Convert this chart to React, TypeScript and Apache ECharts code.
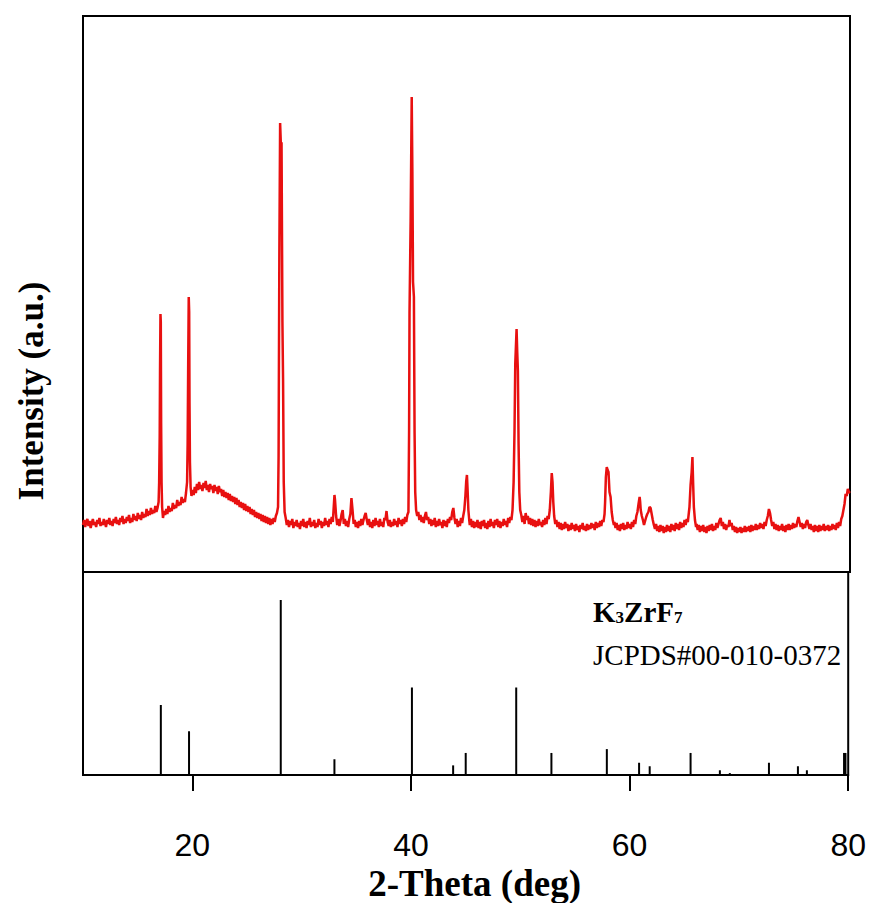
import React, { useEffect, useRef } from "react";
import * as echarts from "echarts";

// ---- axis ticks ----
const xTickValues = [20, 40, 60, 80];

// ---- measured scan (2-theta in deg, intensity in counts) ----
const scan10to20: [number, number][] = [
  [10.0, 470], [10.1, 520], [10.2, 450], [10.3, 500], [10.4, 530], [10.5, 460], [10.6, 510], [10.7, 440], [10.8, 490], [10.9, 530],
  [11.0, 470], [11.1, 500], [11.2, 450], [11.3, 520], [11.4, 480], [11.5, 540], [11.6, 460], [11.7, 500], [11.8, 470], [11.9, 530],
  [12.0, 490], [12.1, 450], [12.2, 520], [12.3, 480], [12.4, 540], [12.5, 470], [12.6, 510], [12.7, 460], [12.8, 530], [12.9, 490],
  [13.0, 550], [13.1, 480], [13.2, 520], [13.3, 470], [13.4, 540], [13.5, 500], [13.6, 560], [13.7, 480], [13.8, 530], [13.9, 490],
  [14.0, 550], [14.1, 510], [14.2, 570], [14.3, 490], [14.4, 540], [14.5, 500], [14.6, 580], [14.7, 520], [14.8, 560], [14.9, 510],
  [15.0, 590], [15.1, 530], [15.2, 570], [15.3, 520], [15.4, 600], [15.5, 540], [15.6, 580], [15.7, 550], [15.8, 630], [15.9, 560],
  [16.0, 610], [16.1, 570], [16.2, 640], [16.3, 580], [16.4, 620], [16.5, 590], [16.6, 660], [16.7, 600], [16.8, 640],
  [16.9, 700], [16.95, 900], [17.0, 1360], [17.03, 2020], [17.07, 2580], [17.1, 2500], [17.13, 1500], [17.17, 900], [17.22, 650], [17.3, 540],
  [17.4, 610], [17.5, 570], [17.6, 630], [17.7, 580], [17.8, 660], [17.9, 600], [18.0, 640], [18.1, 610], [18.2, 690], [18.3, 630],
  [18.4, 670], [18.5, 640], [18.6, 720], [18.7, 660], [18.8, 700], [18.9, 670], [19.0, 750], [19.1, 690], [19.2, 730], [19.3, 700], [19.4, 790],
  [19.5, 900], [19.55, 1280], [19.6, 2080], [19.65, 2750], [19.69, 2600], [19.72, 1700], [19.76, 1100], [19.82, 850], [19.9, 760],
];

const scan20to30: [number, number][] = [
  [20.0, 820], [20.1, 770], [20.2, 850], [20.3, 790], [20.4, 880], [20.5, 820], [20.6, 900], [20.7, 830], [20.8, 870], [20.9, 810],
  [21.0, 890], [21.1, 840], [21.2, 910], [21.3, 820], [21.4, 870], [21.5, 800], [21.6, 880], [21.7, 830], [21.8, 860], [21.9, 790],
  [22.0, 870], [22.1, 810], [22.2, 850], [22.3, 780], [22.4, 860], [22.5, 800], [22.6, 830], [22.7, 760], [22.8, 820], [22.9, 750],
  [23.0, 800], [23.1, 740], [23.2, 790], [23.3, 720], [23.4, 780], [23.5, 710], [23.6, 760], [23.7, 700], [23.8, 750], [23.9, 680],
  [24.0, 740], [24.1, 670], [24.2, 720], [24.3, 650], [24.4, 700], [24.5, 640], [24.6, 690], [24.7, 620], [24.8, 680], [24.9, 610],
  [25.0, 660], [25.1, 600], [25.2, 650], [25.3, 580], [25.4, 630], [25.5, 570], [25.6, 620], [25.7, 550], [25.8, 600], [25.9, 540],
  [26.0, 590], [26.1, 530], [26.2, 580], [26.3, 510], [26.4, 570], [26.5, 500], [26.6, 560], [26.7, 490], [26.8, 550], [26.9, 480],
  [27.0, 540], [27.1, 470], [27.2, 530], [27.3, 480], [27.4, 540], [27.5, 500], [27.6, 560], [27.7, 590],
  [27.8, 650], [27.85, 1160], [27.92, 3200], [27.99, 4490], [28.05, 4300], [28.12, 4290], [28.2, 2500], [28.26, 1910], [28.32, 900], [28.4, 600],
  [28.5, 540], [28.6, 470], [28.7, 520], [28.8, 450], [28.9, 510], [29.0, 470], [29.1, 530], [29.2, 440], [29.3, 500], [29.4, 460],
  [29.5, 520], [29.6, 450], [29.7, 490], [29.8, 430], [29.9, 510],
];

const scan30to40: [number, number][] = [
  [30.0, 460], [30.1, 530], [30.2, 450], [30.3, 500], [30.4, 440], [30.5, 510], [30.6, 470], [30.7, 540], [30.8, 450], [30.9, 500],
  [31.0, 460], [31.1, 520], [31.2, 440], [31.3, 490], [31.4, 450], [31.5, 530], [31.6, 470], [31.7, 510], [31.8, 440], [31.9, 500],
  [32.0, 460], [32.1, 540], [32.2, 470], [32.3, 510], [32.4, 450], [32.5, 530], [32.6, 480], [32.7, 550], [32.8, 500], [32.9, 680],
  [32.95, 770], [33.0, 720], [33.1, 560], [33.2, 470], [33.3, 530], [33.4, 460], [33.5, 510], [33.6, 580], [33.7, 620], [33.8, 480],
  [33.9, 530], [34.0, 460], [34.1, 510], [34.2, 450], [34.3, 530], [34.4, 580], [34.5, 740], [34.6, 620], [34.7, 480], [34.8, 520],
  [34.9, 450], [35.0, 500], [35.1, 440], [35.2, 510], [35.3, 460], [35.4, 530], [35.5, 470], [35.6, 520], [35.7, 560], [35.8, 590],
  [35.9, 520], [36.0, 470], [36.1, 530], [36.2, 450], [36.3, 500], [36.4, 440], [36.5, 520], [36.6, 460], [36.7, 540], [36.8, 470],
  [36.9, 510], [37.0, 450], [37.1, 530], [37.2, 460], [37.3, 500], [37.4, 450], [37.5, 540], [37.6, 520], [37.7, 610], [37.8, 500],
  [37.9, 460], [38.0, 520], [38.1, 450], [38.2, 500], [38.3, 460], [38.4, 530], [38.5, 470], [38.6, 510], [38.7, 450], [38.8, 540],
  [38.9, 480], [39.0, 520], [39.1, 460], [39.2, 530], [39.3, 480], [39.4, 550], [39.5, 500], [39.6, 570],
  [39.7, 600], [39.76, 1400], [39.8, 2590], [39.9, 3500], [40.0, 4750], [40.06, 4000], [40.12, 2900], [40.2, 2750], [40.26, 1400], [40.32, 800], [40.4, 620],
];

const scan40to50: [number, number][] = [
  [40.5, 560], [40.6, 600], [40.7, 520], [40.8, 570], [40.9, 500], [41.0, 550], [41.1, 490], [41.2, 560], [41.3, 600], [41.4, 520],
  [41.5, 550], [41.6, 480], [41.7, 530], [41.8, 460], [41.9, 520], [42.0, 470], [42.1, 540], [42.2, 450], [42.3, 510], [42.4, 460],
  [42.5, 530], [42.6, 470], [42.7, 500], [42.8, 440], [42.9, 520], [43.0, 460], [43.1, 510], [43.2, 450], [43.3, 530], [43.4, 490],
  [43.5, 550], [43.6, 520], [43.7, 600], [43.8, 640], [43.9, 540], [44.0, 480], [44.1, 530], [44.2, 450], [44.3, 510], [44.4, 460],
  [44.5, 540], [44.6, 490], [44.7, 560], [44.8, 620], [44.9, 760], [44.97, 900], [45.04, 970], [45.1, 820], [45.17, 620], [45.25, 520],
  [45.3, 470], [45.4, 530], [45.5, 450], [45.6, 510], [45.7, 440], [45.8, 500], [45.9, 450], [46.0, 520], [46.1, 440], [46.2, 500],
  [46.3, 430], [46.4, 510], [46.5, 460], [46.6, 520], [46.7, 440], [46.8, 490], [46.9, 430], [47.0, 510], [47.1, 450], [47.2, 530],
  [47.3, 460], [47.4, 500], [47.5, 440], [47.6, 520], [47.7, 470], [47.8, 530], [47.9, 450], [48.0, 510], [48.1, 440], [48.2, 500],
  [48.3, 460], [48.4, 530], [48.5, 470], [48.6, 510], [48.7, 450], [48.8, 540], [48.9, 490], [49.0, 550], [49.1, 520],
  [49.2, 620], [49.3, 900], [49.38, 1400], [49.45, 2080], [49.57, 2430], [49.63, 2200], [49.69, 2010], [49.75, 1300], [49.82, 800], [49.9, 620],
];

const scan50to60: [number, number][] = [
  [50.0, 570], [50.1, 500], [50.2, 560], [50.3, 480], [50.4, 590], [50.5, 520], [50.6, 560], [50.7, 480], [50.8, 540], [50.9, 470],
  [51.0, 530], [51.1, 460], [51.2, 520], [51.3, 450], [51.4, 510], [51.5, 460], [51.6, 530], [51.7, 470], [51.8, 500], [51.9, 450],
  [52.0, 520], [52.1, 470], [52.2, 540], [52.3, 480], [52.4, 560], [52.5, 530], [52.6, 620], [52.7, 800], [52.78, 990], [52.85, 900],
  [52.92, 700], [53.0, 560], [53.1, 480], [53.2, 520], [53.3, 450], [53.4, 500], [53.5, 430], [53.6, 490], [53.7, 420], [53.8, 480],
  [53.9, 430], [54.0, 500], [54.1, 440], [54.2, 480], [54.3, 410], [54.4, 470], [54.5, 420], [54.6, 490], [54.7, 430], [54.8, 470],
  [54.9, 410], [55.0, 480], [55.1, 420], [55.2, 460], [55.3, 400], [55.4, 470], [55.5, 430], [55.6, 490], [55.7, 420], [55.8, 460],
  [55.9, 410], [56.0, 480], [56.1, 420], [56.2, 470], [56.3, 430], [56.4, 490], [56.5, 440], [56.6, 480], [56.7, 420], [56.8, 500],
  [56.9, 440], [57.0, 490], [57.1, 450], [57.2, 510], [57.3, 460], [57.4, 520], [57.5, 500], [57.6, 580], [57.65, 700], [57.72, 950],
  [57.8, 1050], [57.88, 1020], [57.96, 1000], [58.05, 800], [58.15, 750], [58.25, 600], [58.35, 520], [58.45, 470], [58.5, 500], [58.6, 440],
  [58.7, 490], [58.8, 420], [58.9, 470], [59.0, 410], [59.1, 480], [59.2, 430], [59.3, 490], [59.4, 420], [59.5, 470], [59.6, 430],
  [59.7, 500], [59.8, 440], [59.9, 480],
];

const scan60to70: [number, number][] = [
  [60.0, 430], [60.1, 500], [60.2, 450], [60.3, 520], [60.4, 480], [60.5, 560], [60.6, 600], [60.7, 680], [60.8, 750], [60.85, 700],
  [60.9, 620], [61.0, 560], [61.1, 520], [61.2, 470], [61.3, 510], [61.4, 550], [61.5, 580], [61.6, 600], [61.7, 650], [61.8, 640],
  [61.9, 580], [62.0, 520], [62.1, 470], [62.2, 430], [62.3, 480], [62.4, 410], [62.5, 460], [62.6, 400], [62.7, 470], [62.8, 410],
  [62.9, 460], [63.0, 390], [63.1, 450], [63.2, 400], [63.3, 470], [63.4, 410], [63.5, 460], [63.6, 400], [63.7, 480], [63.8, 420],
  [63.9, 470], [64.0, 410], [64.1, 490], [64.2, 430], [64.3, 480], [64.4, 420], [64.5, 500], [64.6, 440], [64.7, 490], [64.8, 450],
  [64.9, 520], [65.0, 470], [65.1, 530], [65.2, 500], [65.3, 600], [65.35, 650], [65.45, 870], [65.55, 1000], [65.62, 1150], [65.68, 900],
  [65.75, 650], [65.85, 520], [65.95, 450], [66.0, 480], [66.1, 420], [66.2, 470], [66.3, 400], [66.4, 460], [66.5, 410], [66.6, 470],
  [66.7, 400], [66.8, 450], [66.9, 390], [67.0, 460], [67.1, 410], [67.2, 470], [67.3, 420], [67.4, 480], [67.5, 410], [67.6, 460],
  [67.7, 420], [67.8, 490], [67.9, 440], [68.0, 480], [68.1, 520], [68.2, 540], [68.3, 460], [68.4, 500], [68.5, 430], [68.6, 480],
  [68.7, 420], [68.8, 470], [68.9, 450], [69.0, 520], [69.1, 460], [69.2, 490], [69.3, 420], [69.4, 460], [69.5, 400], [69.6, 450],
  [69.7, 390], [69.8, 440], [69.9, 400],
];

const scan70to80: [number, number][] = [
  [70.0, 450], [70.1, 390], [70.2, 440], [70.3, 400], [70.4, 460], [70.5, 400], [70.6, 450], [70.7, 410], [70.8, 460], [70.9, 400],
  [71.0, 470], [71.1, 410], [71.2, 460], [71.3, 420], [71.4, 480], [71.5, 420], [71.6, 470], [71.7, 430], [71.8, 490], [71.9, 440],
  [72.0, 480], [72.1, 430], [72.2, 500], [72.3, 460], [72.4, 520], [72.5, 560], [72.6, 630], [72.7, 590], [72.8, 520], [72.9, 460],
  [73.0, 500], [73.1, 430], [73.2, 480], [73.3, 420], [73.4, 470], [73.5, 410], [73.6, 460], [73.7, 420], [73.8, 480], [73.9, 410],
  [74.0, 460], [74.1, 400], [74.2, 470], [74.3, 420], [74.4, 480], [74.5, 420], [74.6, 470], [74.7, 430], [74.8, 490], [74.9, 440],
  [75.0, 480], [75.1, 450], [75.2, 510], [75.3, 550], [75.4, 500], [75.5, 450], [75.6, 490], [75.7, 430], [75.8, 480], [75.9, 440],
  [76.0, 500], [76.1, 520], [76.2, 470], [76.3, 430], [76.4, 480], [76.5, 420], [76.6, 460], [76.7, 400], [76.8, 470], [76.9, 410],
  [77.0, 460], [77.1, 400], [77.2, 470], [77.3, 410], [77.4, 460], [77.5, 420], [77.6, 480], [77.7, 410], [77.8, 460], [77.9, 420],
  [78.0, 470], [78.1, 410], [78.2, 460], [78.3, 420], [78.4, 480], [78.5, 430], [78.6, 470], [78.7, 420], [78.8, 490], [78.9, 440],
  [79.0, 500], [79.1, 460], [79.2, 530], [79.3, 560], [79.4, 620], [79.5, 680], [79.6, 780], [79.7, 760], [79.8, 830], [79.9, 800],
  [80.0, 790],
];

// ---- reference pattern K3ZrF7, JCPDS#00-010-0372 ----
const refPositions = [17.12, 19.7, 28.09, 33.0, 40.09, 43.86, 45.01, 49.63, 52.85, 57.92, 60.87, 61.84,
  65.58, 68.26, 69.17, 72.75, 75.4, 76.22, 79.62, 79.75];
const refIntensities = [40, 25, 100, 9, 50, 5.5, 12.6, 50, 12.6, 14.8, 7, 5, 12.6, 2.7, 1.1, 7, 5, 2.7,
  12.6, 12.6];

const serif = "'Times New Roman', 'Liberation Serif', serif";
const sans = "'Arial Narrow', 'Liberation Sans Narrow', Arial, 'Liberation Sans', sans-serif";

export default function App() {
  const ref = useRef<HTMLDivElement>(null);
  useEffect(() => {
    const chart = echarts.init(ref.current!, null, { renderer: "svg" });
    const scan = [...scan10to20, ...scan20to30, ...scan30to40, ...scan40to50, ...scan50to60, ...scan60to70, ...scan70to80];
    chart.setOption({
      animation: false,
      backgroundColor: "#fff",
      grid: [
        { left: 83, right: 19, top: 16, height: 556, show: true, borderColor: "#000", borderWidth: 2, backgroundColor: "transparent" },
        { left: 83, right: 19, top: 572, height: 210, show: true, borderColor: "#000", borderWidth: 2, backgroundColor: "transparent" },
      ],
      xAxis: [
        { type: "value", gridIndex: 0, min: 10, max: 80, axisLine: { show: false }, axisTick: { show: false }, axisLabel: { show: false }, splitLine: { show: false } },
        {
          type: "value", gridIndex: 1, min: 10, max: 80,
          axisLine: { show: true, onZero: false, lineStyle: { color: "#000", width: 2 } },
          axisTick: { show: true, customValues: xTickValues, length: 16, inside: false, lineStyle: { color: "#000", width: 2 } },
          axisLabel: { show: true, customValues: xTickValues, color: "#000", fontSize: 32, fontFamily: sans, margin: 54 },
          splitLine: { show: false },
          name: "2-Theta (deg)", nameLocation: "middle", nameGap: 90,
          nameTextStyle: { color: "#000", fontSize: 37, fontWeight: "bold", fontFamily: serif, padding: [0, 0, 0, 18] },
        },
      ],
      yAxis: [
        { type: "value", gridIndex: 0, min: 0, max: 5560, show: false },
        { type: "value", gridIndex: 1, min: 0, max: 116, show: false },
      ],
      series: [
        {
          type: "line", xAxisIndex: 0, yAxisIndex: 0, data: scan, showSymbol: false, symbol: "none",
          lineStyle: { color: "#e81010", width: 2.5 }, z: 3,
        },
        {
          type: "bar", xAxisIndex: 1, yAxisIndex: 1, barWidth: 2,
          data: refPositions.map((p, i) => [p, refIntensities[i]]),
          itemStyle: { color: "#000" },
        },
      ],
      graphic: [
        {
          type: "text", x: 31, y: 391, rotation: Math.PI / 2,
          style: { text: "Intensity (a.u.)", fontSize: 35, fontWeight: "bold", fontFamily: serif, fill: "#000", align: "center", verticalAlign: "middle" },
        },
        {
          type: "text", x: 593, y: 594,
          style: {
            text: "{b|K}{s|3}{b|ZrF}{s|7}",
            rich: {
              b: { fontSize: 29, fontWeight: "bold", fontFamily: serif, fill: "#000", lineHeight: 32, verticalAlign: "bottom" },
              s: { fontSize: 17, fontWeight: "bold", fontFamily: serif, fill: "#000", lineHeight: 32, verticalAlign: "bottom" },
            },
          },
        },
        {
          type: "text", x: 593, y: 640,
          style: { text: "JCPDS#00-010-0372", fontSize: 29, fontFamily: serif, fill: "#000" },
        },
      ],
    });
    return () => chart.dispose();
  }, []);
  return <div ref={ref} style={{ position: "absolute", left: 0, top: 0, width: 869, height: 903 }} />;
}
